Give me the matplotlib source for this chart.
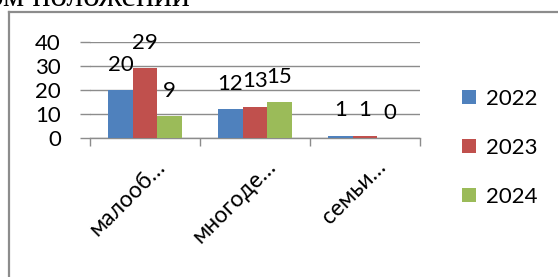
import matplotlib
matplotlib.use("Agg")
import matplotlib.pyplot as plt
import matplotlib.transforms as mtransforms
from matplotlib.lines import Line2D
from matplotlib.patches import Patch
import numpy as np

categories = ["малооб…", "многоде…", "семьи…"]
series_names = ["2022", "2023", "2024"]
values_2022 = [20, 12, 1]
values_2023 = [29, 13, 1]
values_2024 = [9, 15, 0]
y_ticks = [0, 10, 20, 30, 40]

colors = ["#4F81BD", "#C0504D", "#9BBB59"]
FONT = ["Lato", "Open Sans", "DejaVu Sans"]
plt.rcParams["font.family"] = FONT
FS = 16

W, H = 558, 277
fig = plt.figure(figsize=(W / 100, H / 100), dpi=100)

def fx(px):
    return px / W

def fy(py):
    return 1 - py / H

# page heading, cut at top
fig.text(fx(190), fy(5.5), "ом положении", family="Liberation Serif",
         fontsize=24, ha="right", va="baseline", color="black")

# chart frame (left and top borders visible)
grey = "#8c8c8c"
fig.add_artist(Line2D([fx(9), fx(9)], [fy(12), fy(H + 5)], color=grey, lw=1.6))
fig.add_artist(Line2D([fx(9), fx(W + 5)], [fy(12), fy(12)], color=grey, lw=1.6))

ax = fig.add_axes([fx(90), fy(138), fx(420) - fx(90), fy(42) - fy(138)])
x = np.arange(len(categories))
width = 0.223
series = [values_2022, values_2023, values_2024]
for i, (vals, name, c) in enumerate(zip(series, series_names, colors)):
    pos = x + (i - 1) * width
    ax.bar(pos, vals, width=width, color=c, label=name, zorder=3)
    for px_, v in zip(pos, vals):
        ax.annotate(str(v), (px_, v), xytext=(0, 14), textcoords="offset points",
                    ha="center", va="baseline", fontsize=FS, color="black", zorder=4)

ax.set_xlim(-0.5, len(categories) - 0.5)
ax.set_ylim(0, 40)
ax.set_yticks(y_ticks)
ax.set_yticklabels([str(t) for t in y_ticks], fontsize=FS)
ax.grid(axis="y", color=grey, lw=1.0, zorder=0)
ax.tick_params(axis="y", length=7, width=1.0, color=grey, pad=14)
for s in ["top", "right", "left"]:
    ax.spines[s].set_visible(False)
ax.spines["bottom"].set_color(grey)
ax.spines["bottom"].set_linewidth(1.0)

ax.set_xticks(np.arange(len(categories) + 1) - 0.5)
ax.set_xticklabels([])
ax.tick_params(axis="x", length=6, width=1.0, color=grey)

offset = mtransforms.ScaledTranslation(17 / 100, -25 / 100, fig.dpi_scale_trans)
for xi, lab in zip(x, categories):
    ax.text(xi, 0, lab, transform=ax.get_xaxis_transform() + offset,
            rotation=45, rotation_mode="anchor", ha="right", va="center",
            fontsize=16.5, color="black")

handles = [Patch(facecolor=c) for c in colors]
fig.legend(handles, series_names, loc="center left",
           bbox_to_anchor=(fx(462), fy(148)), frameon=False, fontsize=FS,
           handlelength=0.62, handleheight=0.62, handletextpad=0.45,
           labelspacing=1.3, borderpad=0, borderaxespad=0)

fig.savefig("out.png", dpi=100)
